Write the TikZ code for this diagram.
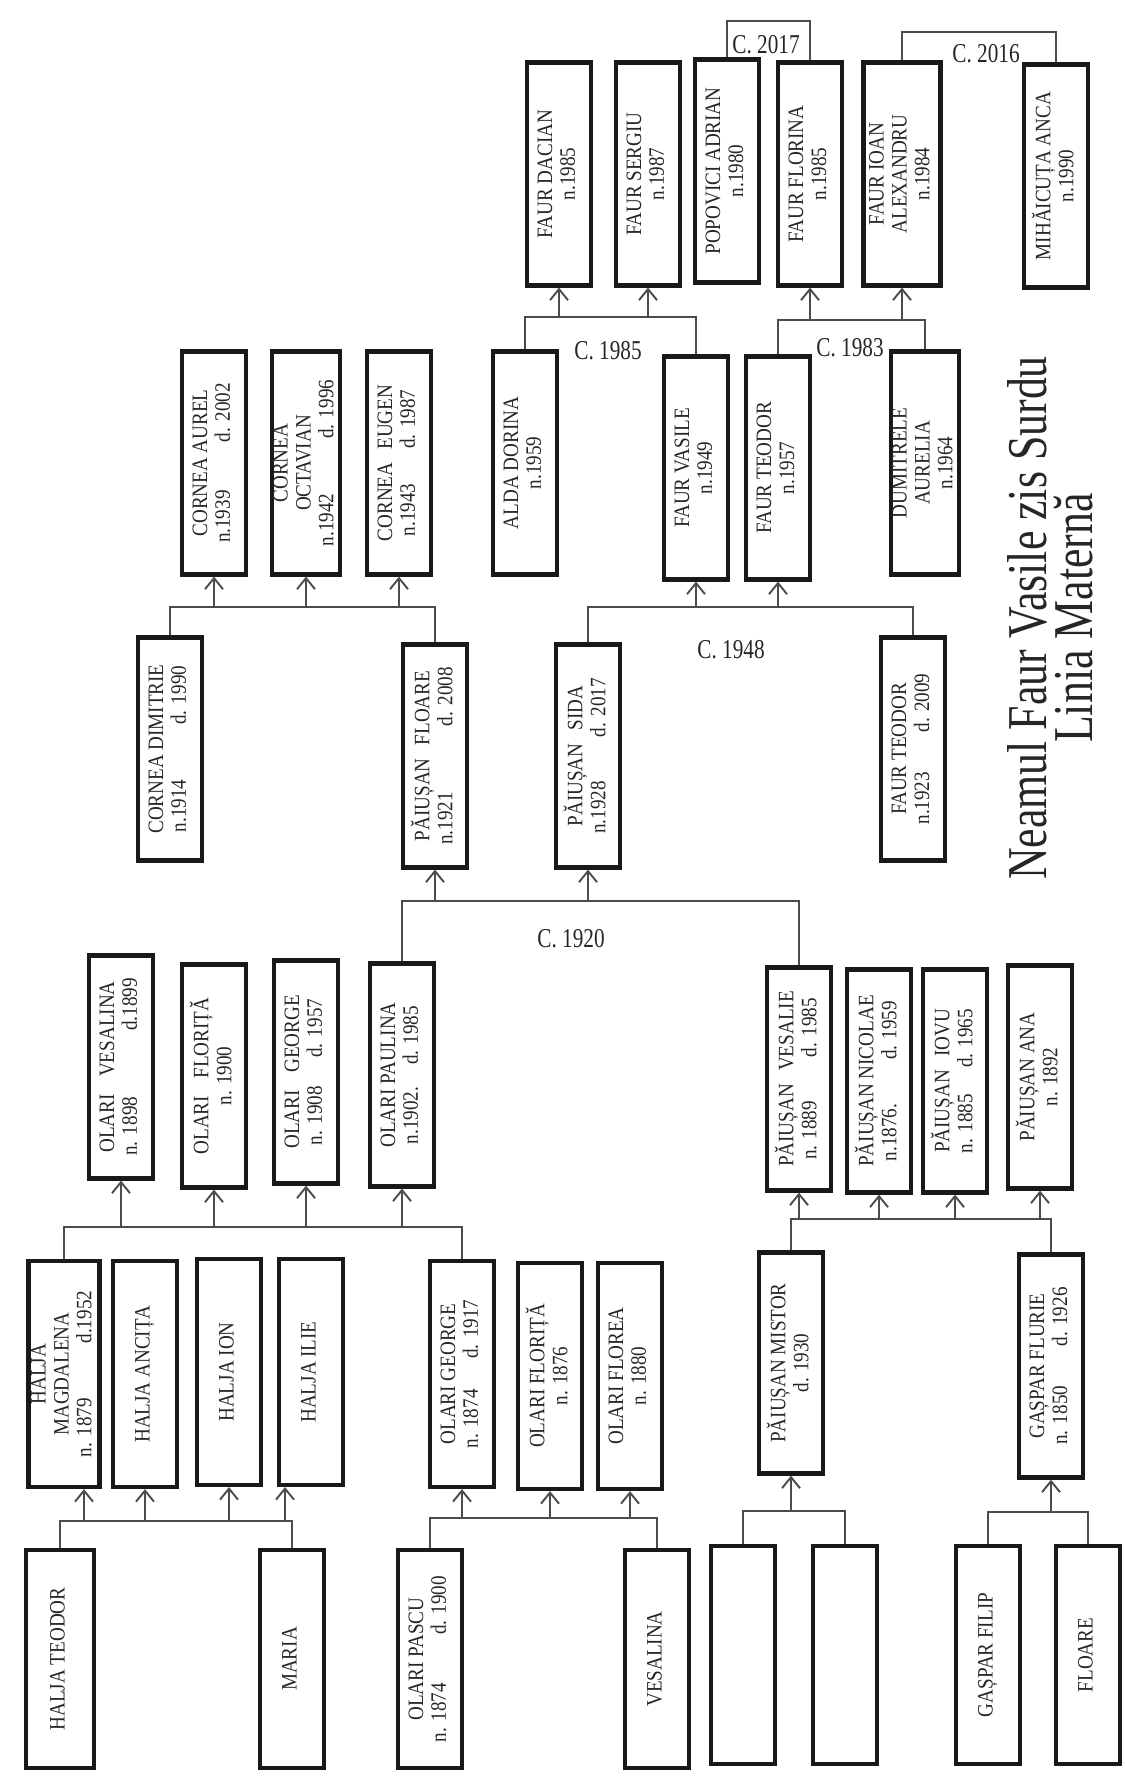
\documentclass[tikz,border=0pt]{standalone}
\usepackage{fontspec}
\setmainfont{Liberation Serif}
\newfontfamily\boxfont[FakeStretch=0.87]{Liberation Serif}
\newfontfamily\narrowfont[FakeStretch=0.78]{Liberation Serif}
\usepackage{graphicx}
\usetikzlibrary{arrows.meta,positioning}
\newcommand{\vtext}[1]{\rotatebox{90}{\begin{tabular}{@{}c@{}}#1\end{tabular}}}

\begin{document}
\begin{tikzpicture}[x=0.2mm, y=-0.2mm, >={Straight Barb[length=2.2mm,width=3.6mm]},
  pbox/.style={draw=black!90, line width=2.4pt, inner sep=0pt, minimum width=12.8mm, minimum height=44.6mm, text=black!85, font={\boxfont\fontsize{12.5}{13}\selectfont}},
  link/.style={draw=black!70, line width=1.1pt},
  year/.style={inner sep=1pt, text=black!85, font={\narrowfont\fontsize{15.5}{16}\selectfont}}]
\useasboundingbox (0,0) rectangle (1124,1789);

% generation 1
\node[pbox, minimum height=43.6mm, minimum width=13.6mm] (haljaTeodor) at (60,1659) {\vtext{HALJA TEODOR}};
\node[pbox, minimum height=43.6mm] (maria) at (292,1659) {\vtext{MARIA}};
\node[pbox, minimum height=43.6mm] (olariPascu) at (430,1659) {\vtext{OLARI PASCU\\n. 1874\hspace{2.2em}d. 1900}};
\node[pbox, minimum height=43.6mm] (vesalina) at (657,1659) {\vtext{VESALINA}};
\node[pbox, minimum height=43.6mm] (anonA) at (743,1655) {};
\node[pbox, minimum height=43.6mm] (anonB) at (845,1655) {};
\node[pbox, minimum height=43.6mm] (gasparFilip) at (988,1655) {\vtext{GAȘPAR FILIP}};
\node[pbox, minimum height=43.6mm] (floareG) at (1088,1655) {\vtext{FLOARE}};

% generation 2
\node[pbox, minimum height=45.2mm, minimum width=14.2mm] (haljaMagdalena) at (64,1374) {\vtext{HALJA\\MAGDALENA\\n. 1879\hspace{2.5em}d.1952}};
\node[pbox, minimum height=45.2mm] (haljaAncita) at (145,1374) {\vtext{HALJA ANCIȚA}};
\node[pbox, minimum height=45.2mm] (haljaIon) at (229,1372) {\vtext{HALJA ION}};
\node[pbox, minimum height=45.2mm] (haljaIlie) at (311,1372) {\vtext{HALJA ILIE}};
\node[pbox, minimum height=45.2mm] (olariGeorge) at (462,1374) {\vtext{OLARI GEORGE\\n. 1874\hspace{1.4em}d. 1917}};
\node[pbox, minimum height=45.2mm] (olariFlorita) at (550,1376) {\vtext{OLARI FLORIȚĂ\\n. 1876}};
\node[pbox, minimum height=45.2mm] (olariFlorea) at (630,1376) {\vtext{OLARI FLOREA\\n. 1880}};
\node[pbox, minimum height=44.2mm] (paiusanMistor) at (791,1363) {\vtext{PĂIUȘAN MISTOR\\d. 1930}};
\node[pbox, minimum height=44.6mm] (gasparFlurie) at (1051,1366) {\vtext{GAȘPAR FLURIE\\n. 1850\hspace{1.8em}d. 1926}};

% generation 3
\node[pbox] (olariVesalina) at (121,1067) {\vtext{OLARI\hspace{0.8em}VESALINA\\n. 1898\hspace{3em}d.1899}};
\node[pbox] (olariFlorita2) at (214,1076) {\vtext{OLARI\hspace{0.8em}FLORIȚĂ\\n. 1900}};
\node[pbox] (olariGeorge2) at (306,1072) {\vtext{OLARI\hspace{0.8em}GEORGE\\n. 1908\hspace{1.3em}d. 1957}};
\node[pbox] (olariPaulina) at (402,1075) {\vtext{OLARI PAULINA\\n.1902.\hspace{1em}d. 1985}};
\node[pbox] (paiusanVesalie) at (799,1079) {\vtext{PĂIUȘAN\hspace{0.6em}VESALIE\\n. 1889\hspace{2em}d. 1985}};
\node[pbox] (paiusanNicolae) at (879,1081) {\vtext{PĂIUȘAN NICOLAE\\n.1876.\hspace{2em}d. 1959}};
\node[pbox] (paiusanIovu) at (955,1081) {\vtext{PĂIUȘAN\hspace{0.6em}IOVU\\n. 1885\hspace{1.2em}d. 1965}};
\node[pbox] (paiusanAna) at (1040,1077) {\vtext{PĂIUȘAN ANA\\n. 1892}};

% generation 4
\node[pbox] (corneaDimitrie) at (170,749) {\vtext{CORNEA DIMITRIE\\n.1914\hspace{2.5em}d. 1990}};
\node[pbox] (paiusanFloare) at (435,756) {\vtext{PĂIUȘAN\hspace{0.6em}FLOARE\\n.1921\hspace{3em}d. 2008}};
\node[pbox] (paiusanSida) at (588,756) {\vtext{PĂIUȘAN\hspace{0.6em}SIDA\\n.1928\hspace{2em}d. 2017}};
\node[pbox] (faurTeodor) at (913,749) {\vtext{FAUR TEODOR\\n.1923\hspace{1.8em}d. 2009}};

% generation 5
\node[pbox] (corneaAurel) at (214,463) {\vtext{CORNEA AUREL\\n.1939\hspace{2.2em}d. 2002}};
\node[pbox, minimum width=13.6mm] (corneaOctavian) at (306,463) {\vtext{CORNEA\\OCTAVIAN\\n.1942\hspace{2.5em}d. 1996}};
\node[pbox] (corneaEugen) at (399,463) {\vtext{CORNEA\hspace{0.6em}EUGEN\\n.1943\hspace{1.6em}d. 1987}};
\node[pbox] (aldaDorina) at (525,463) {\vtext{ALDA DORINA\\n.1959}};
\node[pbox] (faurVasile) at (696,468) {\vtext{FAUR VASILE\\n.1949}};
\node[pbox] (faurTeodor2) at (778,468) {\vtext{FAUR TEODOR\\n.1957}};
\node[pbox, minimum width=13.4mm] (dumitreleAurelia) at (925,463) {\vtext{DUMITRELE\\AURELIA\\n.1964}};

% generation 6
\node[pbox] (faurDacian) at (559,174) {\vtext{FAUR DACIAN\\n.1985}};
\node[pbox] (faurSergiu) at (648,174) {\vtext{FAUR SERGIU\\n.1987}};
\node[pbox] (popoviciAdrian) at (727,171) {\vtext{POPOVICI ADRIAN\\n.1980}};
\node[pbox] (faurFlorina) at (810,174) {\vtext{FAUR FLORINA\\n.1985}};
\node[pbox, minimum width=15.4mm] (faurIoan) at (902,174) {\vtext{FAUR IOAN\\ALEXANDRU\\n.1984}};
\node[pbox] (mihaicutaAnca) at (1056,176) {\vtext{MIHĂICUȚA ANCA\\n.1990}};

% title
\node[rotate=90, align=center, text=black!85, font={\narrowfont\fontsize{32}{26}\selectfont}] (title) at (1050,618) {Neamul Faur Vasile zis Surdu\\Linia Maternă};

% levels of the family bars
\coordinate (barHalja) at (0,1521);
\coordinate (barPascu) at (0,1518);
\coordinate (barAnon) at (0,1511);
\coordinate (barGaspar) at (0,1512);
\coordinate (barOlari) at (0,1227);
\coordinate (barPaiusan) at (0,1219);
\coordinate (bar1920) at (0,901);
\coordinate (bar1948) at (0,607);
\coordinate (barCornea) at (0,607);
\coordinate (bar1985) at (0,317);
\coordinate (bar1983) at (0,320);
\coordinate (bar2017) at (0,21);
\coordinate (bar2016) at (0,32);

% Halja
\draw[link] (haljaTeodor.north) -- (haljaTeodor.north |- barHalja) -| (maria.north);
\draw[link, ->] ([xshift=4mm]haljaMagdalena.south |- barHalja) -- ([xshift=4mm]haljaMagdalena.south);
\draw[link, ->] (haljaAncita.south |- barHalja) -- (haljaAncita.south);
\draw[link, ->] (haljaIon.south |- barHalja) -- (haljaIon.south);
\draw[link, ->] ([xshift=-5.2mm]haljaIlie.south |- barHalja) -- ([xshift=-5.2mm]haljaIlie.south);

% Olari
\draw[link] (olariPascu.north) -- (olariPascu.north |- barPascu) -| (vesalina.north);
\draw[link, ->] (olariGeorge.south |- barPascu) -- (olariGeorge.south);
\draw[link, ->] (olariFlorita.south |- barPascu) -- (olariFlorita.south);
\draw[link, ->] (olariFlorea.south |- barPascu) -- (olariFlorea.south);

% Paiusan Mistor
\draw[link] (anonA.north) -- (anonA.north |- barAnon) -| (anonB.north);
\draw[link, ->] (paiusanMistor.south |- barAnon) -- (paiusanMistor.south);

% Gaspar
\draw[link] (gasparFilip.north) -- (gasparFilip.north |- barGaspar) -| (floareG.north);
\draw[link, ->] (gasparFlurie.south |- barGaspar) -- (gasparFlurie.south);

% Olari children
\draw[link] (haljaMagdalena.north) -- (haljaMagdalena.north |- barOlari) -| (olariGeorge.north);
\draw[link, ->] (olariVesalina.south |- barOlari) -- (olariVesalina.south);
\draw[link, ->] (olariFlorita2.south |- barOlari) -- (olariFlorita2.south);
\draw[link, ->] (olariGeorge2.south |- barOlari) -- (olariGeorge2.south);
\draw[link, ->] (olariPaulina.south |- barOlari) -- (olariPaulina.south);

% Paiusan children
\draw[link] (paiusanMistor.north) -- (paiusanMistor.north |- barPaiusan) -| (gasparFlurie.north);
\draw[link, ->] (paiusanVesalie.south |- barPaiusan) -- (paiusanVesalie.south);
\draw[link, ->] (paiusanNicolae.south |- barPaiusan) -- (paiusanNicolae.south);
\draw[link, ->] (paiusanIovu.south |- barPaiusan) -- (paiusanIovu.south);
\draw[link, ->] (paiusanAna.south |- barPaiusan) -- (paiusanAna.south);

% C. 1920
\draw[link] (olariPaulina.north) -- (olariPaulina.north |- bar1920) -| (paiusanVesalie.north);
\draw[link, ->] (paiusanFloare.south |- bar1920) -- (paiusanFloare.south);
\draw[link, ->] (paiusanSida.south |- bar1920) -- (paiusanSida.south);
\node[year] (c1920) at (571,939) {C. 1920};

% Cornea
\draw[link] (corneaDimitrie.north) -- (corneaDimitrie.north |- barCornea) -| (paiusanFloare.north);
\draw[link, ->] (corneaAurel.south |- barCornea) -- (corneaAurel.south);
\draw[link, ->] (corneaOctavian.south |- barCornea) -- (corneaOctavian.south);
\draw[link, ->] (corneaEugen.south |- barCornea) -- (corneaEugen.south);

% C. 1948
\draw[link] (paiusanSida.north) -- (paiusanSida.north |- bar1948) -| (faurTeodor.north);
\draw[link, ->] (faurVasile.south |- bar1948) -- (faurVasile.south);
\draw[link, ->] (faurTeodor2.south |- bar1948) -- (faurTeodor2.south);
\node[year] (c1948) at (731,650) {C. 1948};

% C. 1985
\draw[link] (aldaDorina.north) -- (aldaDorina.north |- bar1985) -| (faurVasile.north);
\draw[link, ->] (faurDacian.south |- bar1985) -- (faurDacian.south);
\draw[link, ->] (faurSergiu.south |- bar1985) -- (faurSergiu.south);
\node[year] (c1985) at (608,351) {C. 1985};

% C. 1983
\draw[link] (faurTeodor2.north) -- (faurTeodor2.north |- bar1983) -| (dumitreleAurelia.north);
\draw[link, ->] (faurFlorina.south |- bar1983) -- (faurFlorina.south);
\draw[link, ->] (faurIoan.south |- bar1983) -- (faurIoan.south);
\node[year] (c1983) at (850,348) {C. 1983};

% C. 2017 and C. 2016
\draw[link] (popoviciAdrian.north) -- (popoviciAdrian.north |- bar2017) -| (faurFlorina.north);
\node[year] (c2017) at (766,45) {C. 2017};
\draw[link] (faurIoan.north) -- (faurIoan.north |- bar2016) -| (mihaicutaAnca.north);
\node[year] (c2016) at (986,54) {C. 2016};
\end{tikzpicture}
\end{document}
